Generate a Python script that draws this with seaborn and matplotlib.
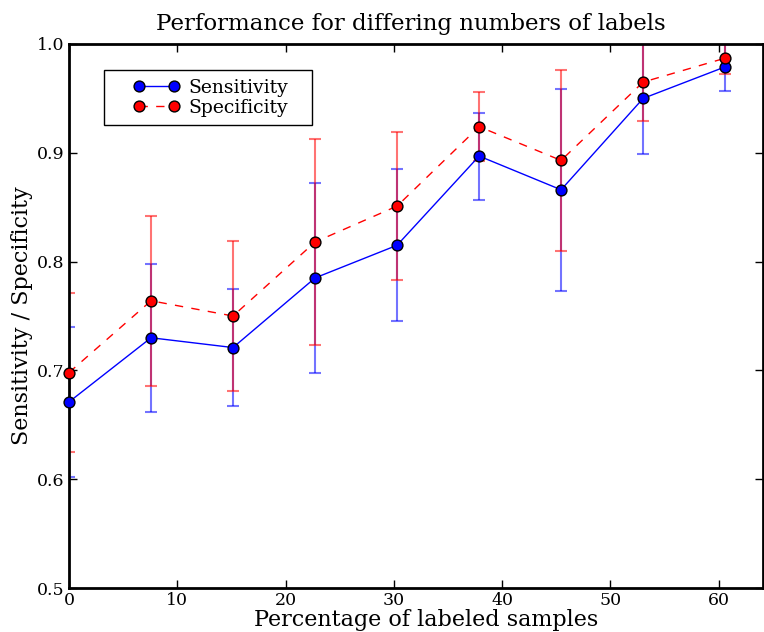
import matplotlib
matplotlib.use("Agg")
import matplotlib.pyplot as plt
from matplotlib.lines import Line2D
from matplotlib.legend_handler import HandlerLine2D
import seaborn as sns
import pandas as pd

# Data
pct_labeled = [0.0, 7.58, 15.15, 22.73, 30.30, 37.88, 45.45, 53.03, 60.61]
sensitivity = [0.671, 0.730, 0.721, 0.785, 0.815, 0.897, 0.866, 0.950, 0.979]
sensitivity_err = [0.069, 0.068, 0.054, 0.087, 0.070, 0.040, 0.093, 0.051, 0.022]
specificity = [0.698, 0.764, 0.750, 0.818, 0.851, 0.924, 0.893, 0.965, 0.987]
specificity_err = [0.073, 0.078, 0.069, 0.095, 0.068, 0.032, 0.083, 0.036, 0.015]

title = "Performance for differing numbers of labels"
xlabel = "Percentage of labeled samples"
ylabel = "Sensitivity / Specificity"
xticks = [0, 10, 20, 30, 40, 50, 60]
yticks = [0.5, 0.6, 0.7, 0.8, 0.9, 1.0]
ytick_labels = ["0.5", "0.6", "0.7", "0.8", "0.9", "1.0"]

sns.set_style("ticks")
plt.rcParams["font.family"] = ["DejaVu Serif"]
plt.rcParams["text.color"] = "black"
plt.rcParams["axes.labelcolor"] = "black"
plt.rcParams["xtick.color"] = "black"
plt.rcParams["ytick.color"] = "black"

fig = plt.figure(figsize=(7.64, 6.32), dpi=100)
ax = fig.add_axes([0.0903, 0.0696, 0.9084, 0.8608])

df = pd.DataFrame({"x": pct_labeled, "sens": sensitivity, "spec": specificity})

ax.errorbar(pct_labeled, sensitivity, yerr=sensitivity_err, fmt="none",
            ecolor="blue", elinewidth=1.5, capsize=4, capthick=1.5, alpha=0.55, zorder=2)
ax.errorbar(pct_labeled, specificity, yerr=specificity_err, fmt="none",
            ecolor="red", elinewidth=1.5, capsize=4, capthick=1.5, alpha=0.55, zorder=2)

sns.lineplot(data=df, x="x", y="sens", ax=ax, color="blue", linewidth=1,
             marker="o", markersize=7.8, markerfacecolor="blue", markeredgecolor="black",
             markeredgewidth=1, label="Sensitivity", zorder=3, clip_on=False)
sns.lineplot(data=df, x="x", y="spec", ax=ax, color="red", linewidth=1,
             marker="o", markersize=7.8, markerfacecolor="red", markeredgecolor="black",
             markeredgewidth=1, label="Specificity", zorder=3, clip_on=False)
ax.lines[-1].set_dashes([6, 6])

ax.set_xlim(0, 64.1)
ax.set_ylim(0.5, 1.0)
ax.set_xticks(xticks)
ax.set_yticks(yticks)
ax.set_yticklabels(ytick_labels)
ax.tick_params(direction="in", top=True, right=True, length=6, width=1, labelsize=12.5, pad=3)

for s in ax.spines.values():
    s.set_linewidth(2)
    s.set_color("black")
    s.set_visible(True)

ax.set_title(title, fontsize=16.5, pad=10, x=0.493)
ax.set_xlabel(xlabel, fontsize=16, labelpad=0)
ax.xaxis.label.set_x(0.514)
ax.set_ylabel(ylabel, fontsize=16, labelpad=3)

lfs = 13.5
fs = lfs / 72 * 100  # legend font size in px
leg = ax.legend(loc="upper left", bbox_to_anchor=(0.0504, 0.952, 0.2997, 0.0),
                mode="expand", borderaxespad=0, numpoints=2,
                fontsize=lfs, frameon=True, fancybox=False, framealpha=1,
                edgecolor="black", borderpad=0.45, labelspacing=0.12,
                handlelength=87.2 / fs, handletextpad=-11.1 / fs,
                handler_map={Line2D: HandlerLine2D(numpoints=2, marker_pad=26.1 / fs)})
leg.get_frame().set_linewidth(1)

fig.savefig("out.png", dpi=100)
